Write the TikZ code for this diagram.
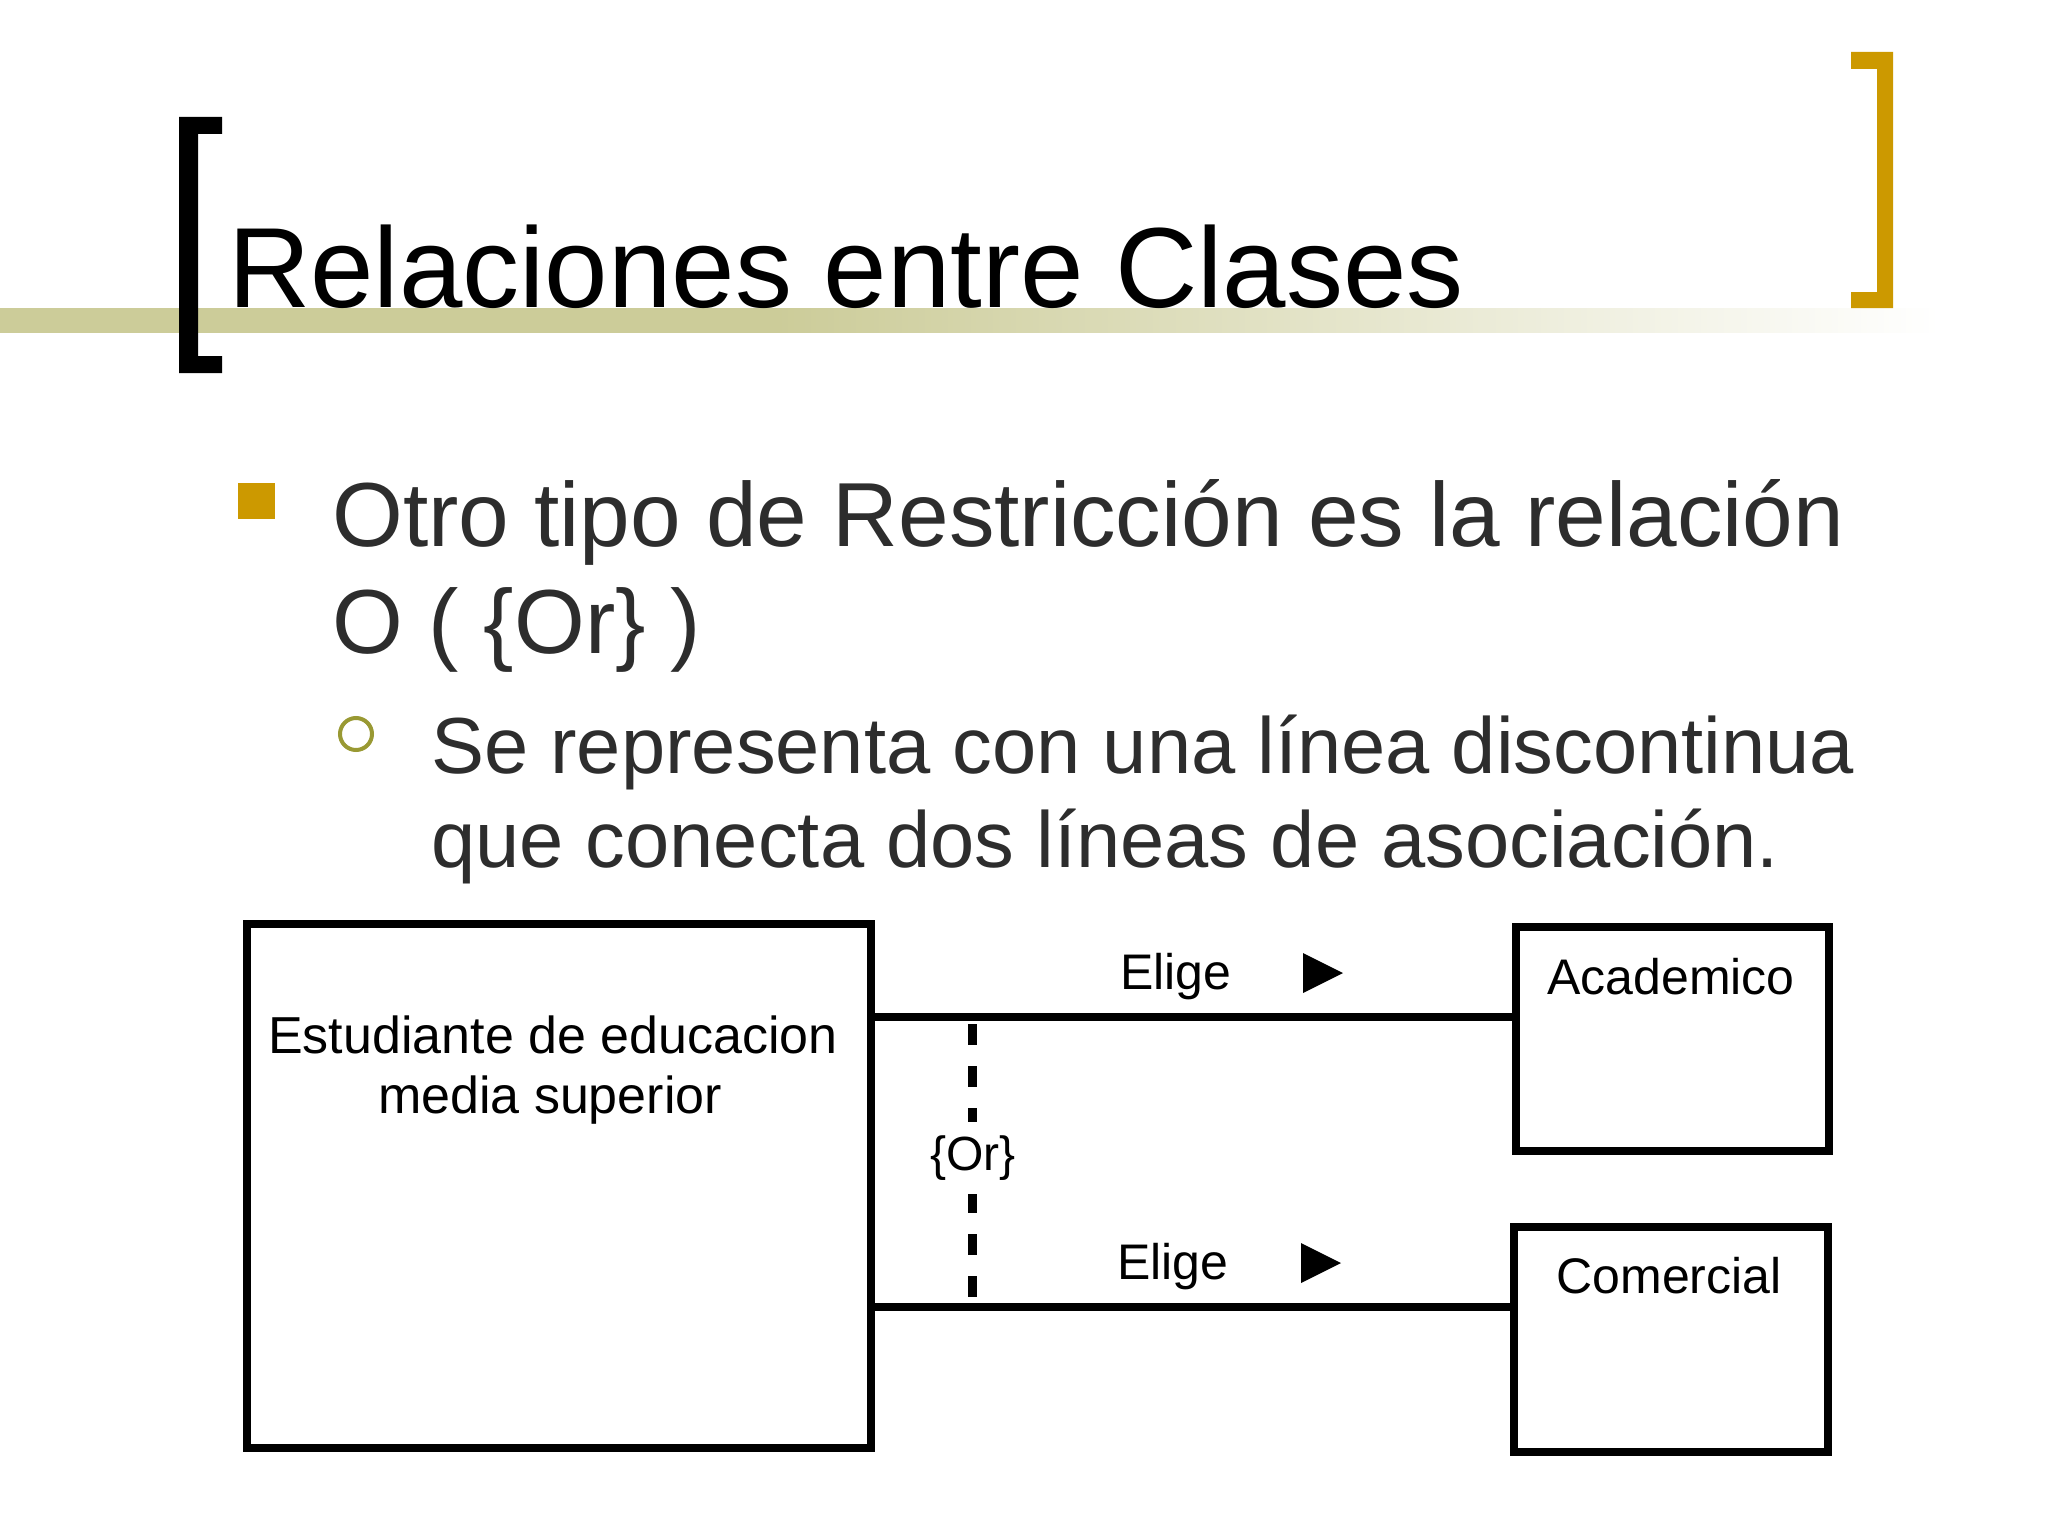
\documentclass[tikz,border=0pt]{standalone}
\usepackage{fontspec}
\setmainfont{Liberation Sans}
\definecolor{gold}{HTML}{CC9900}
\definecolor{band}{HTML}{CCCC99}
\definecolor{olivec}{HTML}{999933}
\definecolor{bodytext}{HTML}{2D2D2D}
\pgfdeclarehorizontalshading{bandshade}{100bp}{color(0bp)=(band); color(45bp)=(band); color(75bp)=(white); color(100bp)=(white)}
\tikzset{
  clsbox/.style={draw=black, line width=8pt, inner sep=0pt, outer sep=0pt, anchor=north west},
  assoc/.style={draw=black, line width=8pt},
  ordash/.style={draw=black, line width=9pt, dash pattern=on 21pt off 21pt, dash phase=-3pt},
  dlabel/.style={inner sep=0pt, anchor=base, text=black, font=\fontsize{50}{60}\selectfont},
  orlbl/.style={fill=white, inner xsep=4pt, inner ysep=14pt, text=black, font=\fontsize{48}{56}\selectfont},
  bodyA/.style={inner sep=0pt, anchor=base west, text=bodytext, font=\fontsize{91}{100}\selectfont},
  bodyB/.style={inner sep=0pt, anchor=base west, text=bodytext, font=\fontsize{79.5}{90}\selectfont},
  navtri/.style={fill=black}
}
\begin{document}
\begin{tikzpicture}[x=1pt,y=-1pt]
\useasboundingbox (0,0) rectangle (2048,1536);
\fill[white] (0,0) rectangle (2048,1536);
% band
\shade[shading=bandshade] (0,308) rectangle (1940,332);
% title
\node[inner sep=0pt, anchor=base west, text=black, font=\fontsize{114}{120}\selectfont] (title) at (228,307) {Relaciones entre Clases};
% brackets
\fill[black] (179,117) -- (222,117) -- (222,134) -- (198,134) -- (198,356) -- (222,356) -- (222,373) -- (179,373) -- cycle;
\fill[gold] (1893,52) -- (1851,52) -- (1851,69) -- (1877,69) -- (1877,292) -- (1851,292) -- (1851,308) -- (1893,308) -- cycle;
% bullets
\fill[gold] (238,483) rectangle (275,519);
\draw[olivec, line width=4pt] (356,734) circle (16);
% body text
\node[bodyA] (l1) at (332,546) {Otro tipo de Restricción es la relación};
\node[bodyA] (l2) at (332,653) {O ( \{Or\} )};
\node[bodyB] (l3) at (431,773) {Se representa con una línea discontinua};
\node[bodyB] (l4) at (431,867) {que conecta dos líneas de asociación.};
% diagram boxes
\node[clsbox, minimum width=624pt, minimum height=524pt] (est) at (247,924) {};
\node[clsbox, minimum width=313pt, minimum height=224pt] (acad) at (1516,927) {};
\node[clsbox, minimum width=314pt, minimum height=225pt] (comer) at (1514,1227) {};
\node[dlabel, font=\fontsize{52}{60}\selectfont] (est1) at (553,1053) {Estudiante de educacion};
\node[dlabel, font=\fontsize{52}{60}\selectfont] (est2) at (550,1113) {media superior};
\node[dlabel] (acadl) at (1671,994) {Academico};
\node[dlabel] (comerl) at (1669,1293) {Comercial};
% associations
\draw[assoc] (est.east |- 0,1017) -- (acad.west |- 0,1017);
\draw[assoc] (est.east |- 0,1307) -- (comer.west |- 0,1307);
\node[dlabel] (elige1) at (1176,989) {Elige};
\node[dlabel] (elige2) at (1173,1279) {Elige};
\fill[navtri] (1303,953) -- (1343,973) -- (1303,993) -- cycle;
\fill[navtri] (1301,1243) -- (1341,1263) -- (1301,1283) -- cycle;
% or constraint
\coordinate (ortop) at (972,1021);
\coordinate (orbot) at (972,1303);
\draw[ordash] (ortop) -- (orbot);
\node[orlbl] (orl) at (973,1158) {\{Or\}};
\end{tikzpicture}
\end{document}
